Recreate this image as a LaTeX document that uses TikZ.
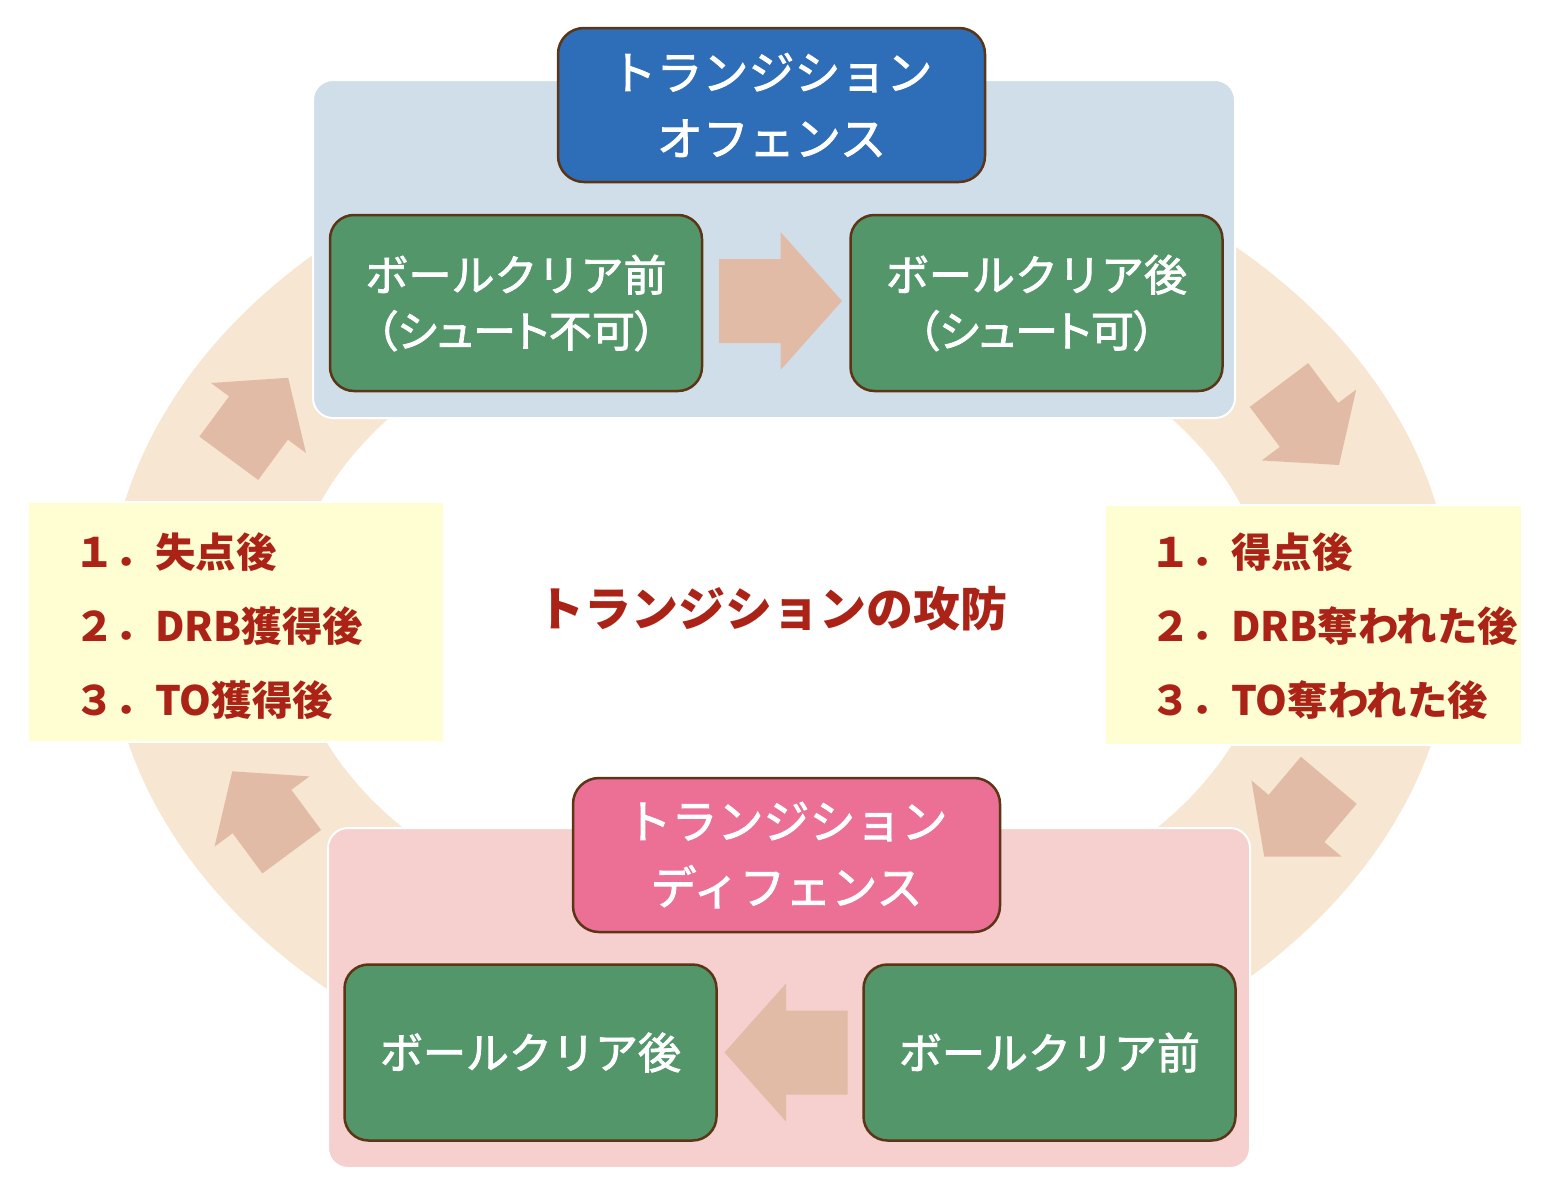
\documentclass[tikz,border=0pt]{standalone}
\usepackage{fontspec}
\newfontfamily\jp{Noto Sans CJK JP}
\newfontfamily\jpw{Noto Sans CJK JP}[FakeBold=2]
\newfontfamily\jpwp{Noto Sans CJK JP}[FakeBold=2,RawFeature=+palt]
\usetikzlibrary{calc}
\definecolor{ringc}{HTML}{F7E6D1}
\definecolor{arrowc}{HTML}{E1BBA6}
\definecolor{panelblue}{HTML}{D0DEEA}
\definecolor{panelpink}{HTML}{F6CFCF}
\definecolor{titleblue}{HTML}{2E6DB8}
\definecolor{titlepink}{HTML}{EC7096}
\definecolor{greenbox}{HTML}{529669}
\definecolor{brownline}{HTML}{5C3517}
\definecolor{yellowbox}{HTML}{FFFDD2}
\definecolor{redtext}{HTML}{AB2216}
\tikzset{
  panel/.style={draw=white, line width=2pt, rounded corners=20pt, inner sep=0pt},
  titlebox/.style={draw=brownline, line width=2.5pt, rounded corners=26pt,
    minimum width=427pt, minimum height=154pt, inner sep=0pt, text=white,
    align=center, font=\jpw\fontsize{46}{66}\selectfont},
  stepbox/.style={fill=greenbox, draw=brownline, line width=2.5pt, rounded corners=24pt,
    minimum width=372pt, minimum height=176pt, inner sep=0pt, text=white,
    align=center, font=\jpw\fontsize{43}{56}\selectfont},
  listbox/.style={fill=yellowbox, draw=white, line width=2.5pt, inner sep=0pt},
  listtext/.style={text=redtext, align=left, anchor=west, inner sep=0pt,
    font=\jp\bfseries\fontsize{40.5}{74}\selectfont},
  ringarrow/.pic={\fill[arrowc] (-50,-36.5) -- (0,-36.5) -- (0,-59) -- (50,0)
    -- (0,59) -- (0,36.5) -- (-50,36.5) -- cycle;},
  midarrow/.pic={\fill[arrowc] (-61.5,-42) -- (0,-42) -- (0,-69) -- (61.5,0)
    -- (0,69) -- (0,42) -- (-61.5,42) -- cycle;}
}
\begin{document}
\begin{tikzpicture}[x=1pt,y=-1pt]
\useasboundingbox (0,0) rectangle (1550,1200);
% ring
\fill[ringc, even odd rule] (780,617) ellipse [x radius=673pt, y radius=503pt]
  (780,617) ellipse [x radius=490pt, y radius=330pt];
% ring arrows
\pic[rotate=53.6] at (258.5,418) {ringarrow};
\pic[rotate=-53.1] at (1309,425) {ringarrow};
\pic[rotate=-130.2] at (1296.5,818.5) {ringarrow};
\pic[rotate=126.5] at (262,811.5) {ringarrow};
% side boxes
\node[listbox, minimum width=416pt, minimum height=240pt] (ly) at (236,622) {};
\node[listbox, minimum width=417pt, minimum height=240pt] (ry) at (1313.5,625) {};
% panels
\node[panel, fill=panelblue, minimum width=922pt, minimum height=338pt] (op) at (774,249) {};
\node[panel, fill=panelpink, minimum width=922pt, minimum height=340pt] (dp) at (789,998) {};
% titles
\node[titlebox, fill=titleblue] (ot) at (771.5,105) {トランジション\\オフェンス};
\node[titlebox, fill=titlepink] (dt) at (786.5,855) {トランジション\\ディフェンス};
% steps
\node[stepbox] (o1) at (516,303) {ボールクリア前\\{\jpwp（シュート不可）}};
\node[stepbox] (o2) at (1036.5,303) {ボールクリア後\\{\jpwp（シュート可）}};
\node[stepbox] (d2) at (530.5,1052.5) {ボールクリア後};
\node[stepbox] (d1) at (1049.5,1052.5) {ボールクリア前};
\pic at (780.5,301) {midarrow};
\pic[rotate=180] at (786,1052.5) {midarrow};
% lists
\node[listtext] (lt) at (74,626) {１．失点後\\２．DRB獲得後\\３．TO獲得後};
\node[listtext] (rt) at (1150,626) {１．得点後\\２．DRB奪われた後\\３．TO奪われた後};
% centre title
\node[text=redtext, inner sep=0pt, font=\jp\bfseries\fontsize{47}{56}\selectfont] (ct) at (772,609) {トランジションの攻防};
\end{tikzpicture}
\end{document}
